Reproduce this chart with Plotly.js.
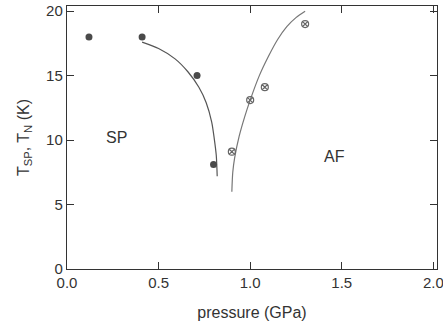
<!DOCTYPE html>
<html><head><meta charset="utf-8">
<script src="https://cdn.plot.ly/plotly-3.0.1.min.js"></script>
<style>html,body{margin:0;padding:0;background:#fff}#c{width:443px;height:322px}</style>
</head><body><div id="c"></div>
<script>
// filled points (SP)
var spX = [0.12, 0.41, 0.71, 0.80];
var spY = [18.0, 18.0, 15.0, 8.1];
// open points (AF)
var afX = [0.90, 1.00, 1.08, 1.30];
var afY = [9.1, 13.1, 14.1, 19.0];
// guide curves
var spCurveX = [0.41, 0.50, 0.59, 0.66, 0.72, 0.76, 0.79, 0.805, 0.815, 0.82];
var spCurveY = [17.6, 17.1, 16.3, 15.3, 14.1, 12.9, 11.4, 10.0, 8.8, 7.2];
var afCurveX = [0.90, 0.905, 0.915, 0.94, 0.97, 1.00, 1.05, 1.10, 1.15, 1.20, 1.25, 1.30];
var afCurveY = [6.0, 7.5, 8.6, 10.3, 11.8, 13.1, 15.0, 16.5, 17.8, 18.8, 19.5, 20.0];
var xTicks = [0, 0.5, 1.0, 1.5, 2.0];
var xTickText = ['0.0', '0.5', '1.0', '1.5', '2.0'];
var yTicks = [0, 5, 10, 15, 20];

var traces = [
  {x: spCurveX, y: spCurveY, mode: 'lines', line: {color: '#555', width: 1.2, shape: 'spline', smoothing: 0.8}, hoverinfo: 'skip'},
  {x: afCurveX, y: afCurveY, mode: 'lines', line: {color: '#777', width: 1.2, shape: 'spline', smoothing: 0.8}, hoverinfo: 'skip'},
  {x: spX, y: spY, mode: 'markers', marker: {symbol: 'circle', size: 7, color: '#4a4a4a'}},
  {x: afX, y: afY, mode: 'markers', marker: {symbol: 'circle-x-open', size: 7, color: '#666', line: {width: 1.2}}}
];
var fam = 'Liberation Sans, Arial, sans-serif';
var tickFont = {family: fam, size: 15, color: '#333'};
var titleFont = {family: fam, size: 16, color: '#333'};
var layout = {
  width: 443, height: 322, showlegend: false,
  margin: {l: 67, r: 6, t: 6, b: 53},
  paper_bgcolor: '#fff', plot_bgcolor: '#fff',
  font: tickFont,
  xaxis: {range: [0, 2.02], tickvals: xTicks, ticktext: xTickText, ticks: 'inside', ticklen: 7,
    mirror: 'ticks', showline: true, linecolor: '#333', linewidth: 1.2, tickcolor: '#333',
    showgrid: false, zeroline: false, tickfont: tickFont, ticklabeloverflow: 'allow',
    title: {text: 'pressure (GPa)', font: titleFont, standoff: 16}},
  yaxis: {range: [0, 20.4], tickvals: yTicks, ticks: 'inside', ticklen: 7,
    mirror: 'ticks', showline: true, linecolor: '#333', linewidth: 1.2, tickcolor: '#333',
    showgrid: false, zeroline: false, tickfont: tickFont,
    title: {text: 'T<sub>SP</sub>, T<sub>N</sub> (K)', font: titleFont, standoff: 12}},
  annotations: [
    {x: 0.27, y: 10.2, text: 'SP', showarrow: false, font: {family: fam, size: 16, color: '#333'}},
    {x: 1.46, y: 8.7, text: 'AF', showarrow: false, font: {family: fam, size: 16, color: '#333'}}
  ]
};
Plotly.newPlot('c', traces, layout, {displayModeBar: false, staticPlot: true});
</script></body></html>
